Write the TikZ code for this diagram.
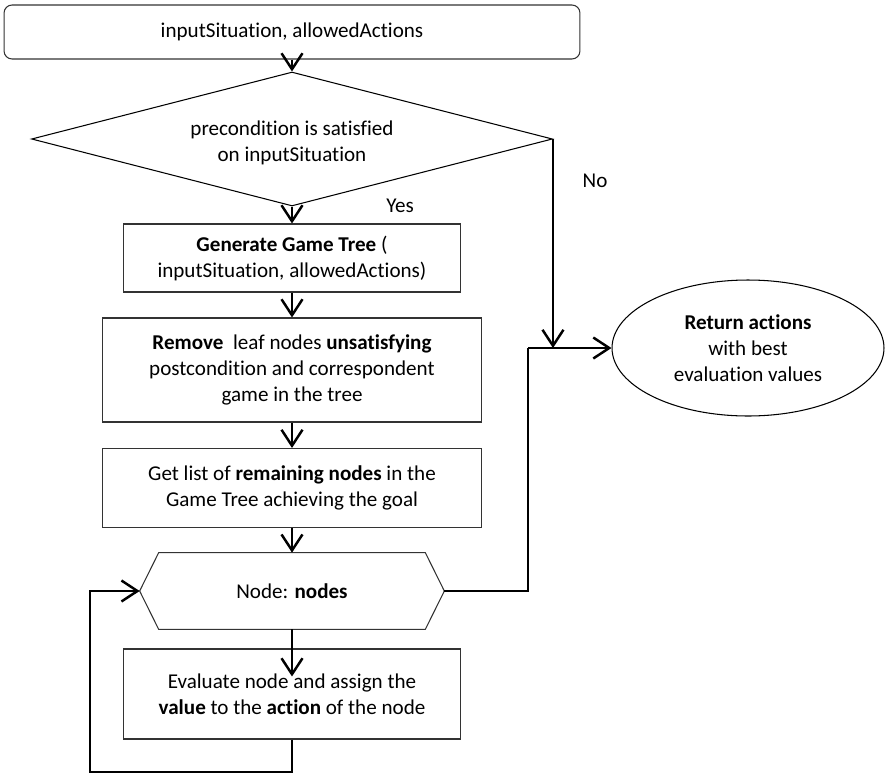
\documentclass[tikz,border=0pt]{standalone}
\usepackage{fontspec}
\setmainfont[Ligatures=NoCommon]{Carlito}
\usetikzlibrary{arrows.meta, shapes.geometric}

\begin{document}
\begin{tikzpicture}[x=0.02cm, y=-0.02cm, font=\fontsize{12}{14.8}\selectfont,
    box/.style={draw=black!80, line width=0.6pt, inner sep=0pt, align=center},
    conn/.style={line width=1.4pt, -{Straight Barb[length=0.32cm, width=0.42cm]}}]
        \useasboundingbox (0,0) rectangle (885,774);
        \node[box, rounded corners=0.16cm, minimum width=11.52cm, minimum height=1.08cm] (start) at (292,32) {inputSituation, allowedActions};
        \node[box, draw=black, diamond, shape aspect=3.9, minimum width=10.42cm, minimum height=2.68cm] (cond) at (292,139) {\\[-2pt]precondition is satisfied\\on inputSituation};
        \node[box, minimum width=6.74cm, minimum height=1.36cm] (gen) at (292,258) {\textbf{Generate Game Tree} (\\inputSituation, allowedActions)};
        \node[box, minimum width=7.6cm, minimum height=2.08cm] (rem) at (292,370) {\textbf{Remove}\ \ leaf nodes \textbf{unsatisfying}\\postcondition and correspondent\\game in the tree};
        \node[box, minimum width=7.6cm, minimum height=1.58cm] (lst) at (292,488) {Get list of \textbf{remaining nodes} in the\\Game Tree achieving the goal};
        \node[inner sep=0pt, minimum width=6.08cm, minimum height=1.52cm] (hex) at (292,591) {Node: \textbf{nodes}};
        \draw[draw=black!80, line width=0.6pt] (hex.west) -- ([xshift=0.38cm]hex.north west) -- ([xshift=-0.38cm]hex.north east) -- (hex.east) -- ([xshift=-0.38cm]hex.south east) -- ([xshift=0.38cm]hex.south west) -- cycle;
        \node[box, minimum width=6.74cm, minimum height=1.8cm] (eval) at (292,694) {Evaluate node and assign the\\\textbf{value} to the \textbf{action} of the node};
        \node[box, draw=black, ellipse, minimum width=5.44cm, minimum height=2.72cm] (ret) at (748,348) {\textbf{Return actions}\\with best\\evaluation values};
        \node (yes) at (400,206) {Yes};
        \node (no) at (595,181) {No};
        \coordinate (mg) at (528,348);
        \coordinate (lp) at (90,772);
        \draw[conn] (start.south) -- (cond.north);
        \draw[conn] (cond.south) -- (gen.north);
        \draw[conn] (gen.south) -- (rem.north);
        \draw[conn] (rem.south) -- (lst.north);
        \draw[conn] (lst.south) -- (hex.north);
        \draw[conn] (hex.south) -- ([yshift=-0.56cm]eval.north);
        \draw[conn] (eval.south) |- (lp) |- (hex.west);
        \draw[conn] (cond.east) -- (cond.east |- mg);
        \draw[line width=1.4pt] (hex.east) -| (mg);
        \draw[conn] (mg) -- (ret.west);
\end{tikzpicture}
\end{document}
